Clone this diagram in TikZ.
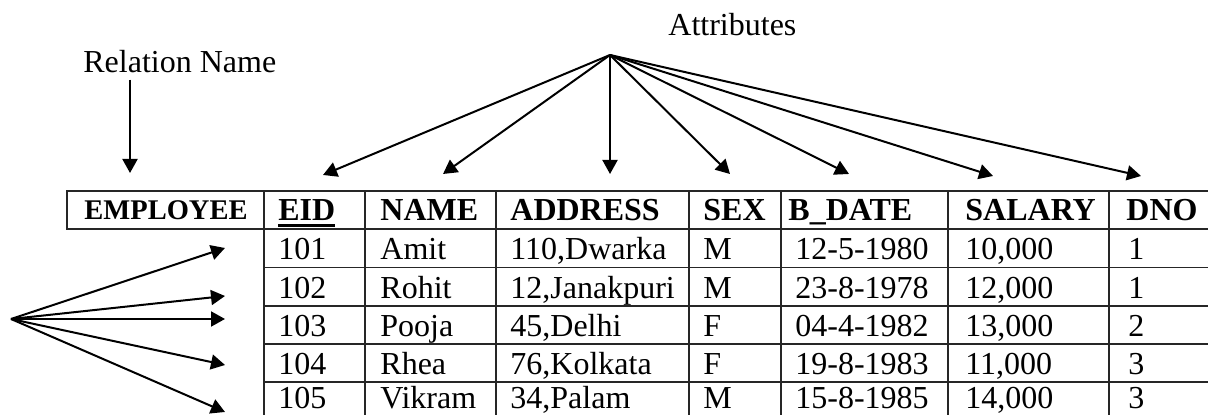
\documentclass[tikz,border=0pt]{standalone}
\usepackage{fontspec}
\setmainfont{Liberation Serif}
\usetikzlibrary{arrows.meta}
\begin{document}
\begin{tikzpicture}[x=0.5pt,y=-0.5pt,
  tbl/.style={line width=0.75pt, draw=black!85},
  arr/.style={line width=1pt,-{Triangle[length=7pt,width=7.5pt]}},
  cell/.style={anchor=base west, inner sep=0pt, font=\fontsize{16}{19}\selectfont},
  hcell/.style={anchor=base west, inner sep=0pt, font=\fontsize{16}{19}\selectfont\bfseries},
  lbl/.style={anchor=base west, inner sep=0pt, font=\fontsize{16}{19}\selectfont}]
\useasboundingbox (0,0) rectangle (1208,415);
% table frame
\draw[tbl] (67,191) rectangle (264,229);
\foreach \y in {191,229,267.5,306,344,382}
  \draw[tbl] (264,\y) -- (1208,\y);
\foreach \x in {264,365,496,689,781,948,1109}
  \draw[tbl] (\x,191) -- (\x,415);
% header
\node[anchor=base, inner sep=0pt, font=\fontsize{14.25}{17}\selectfont\bfseries] (emp) at (166,220) {EMPLOYEE};
\node[hcell] (hEID) at (278,221) {EID};
\draw[line width=1.5pt] (hEID.base west) ++(0,5) -- ++(57,0);
\node[hcell] (hNAME) at (380,221) {NAME};
\node[hcell] (hADDR) at (510,221) {ADDRESS};
\node[hcell] (hSEX) at (703,221) {SEX};
\node[hcell] (hBD) at (788,221) {B\_DATE};
\node[hcell] (hSAL) at (965,221) {SALARY};
\node[hcell] (hDNO) at (1126,221) {DNO};
% data rows
\foreach \r/\yy/\eid/\nm/\ad/\sx/\bd/\sal/\dn in {
  1/260/101/Amit/{110,Dwarka}/M/12-5-1980/{10,000}/1,
  2/298.5/102/Rohit/{12,Janakpuri}/M/23-8-1978/{12,000}/1,
  3/337/103/Pooja/{45,Delhi}/F/04-4-1982/{13,000}/2,
  4/375/104/Rhea/{76,Kolkata}/F/19-8-1983/{11,000}/3,
  5/409/105/Vikram/{34,Palam}/M/15-8-1985/{14,000}/3}{
  \node[cell] (eid\r) at (278,\yy) {\eid};
  \node[cell] (nm\r) at (380,\yy) {\nm};
  \node[cell] (ad\r) at (510,\yy) {\ad};
  \node[cell] (sx\r) at (703,\yy) {\sx};
  \node[cell] (bd\r) at (795,\yy) {\bd};
  \node[cell] (sal\r) at (965,\yy) {\sal};
  \node[cell] (dn\r) at (1128,\yy) {\dn};
}
% labels
\node[lbl] (rel) at (83,73) {Relation Name};
\node[lbl] (attrs) at (668,36) {Attributes};
% relation name arrow
\coordinate (relend) at (130,173);
\draw[arr, shorten <=3pt] (rel.south -| relend) -- (relend);
% attribute arrows
\coordinate (attr) at (610,55);
\foreach \tx/\ty [count=\i] in {323/175,443/174,610/174,730/174,849/174,993/176,1141/176}{
  \coordinate (at\i) at (\tx,\ty);
  \draw[arr] (attr) -- (at\i);
}
% tuple arrows
\coordinate (tup) at (11,319);
\foreach \ty [count=\i] in {248,296,319,365,412}{
  \coordinate (tt\i) at (225,\ty);
  \draw[arr] (tup) -- (tt\i);
}
\end{tikzpicture}
\end{document}
